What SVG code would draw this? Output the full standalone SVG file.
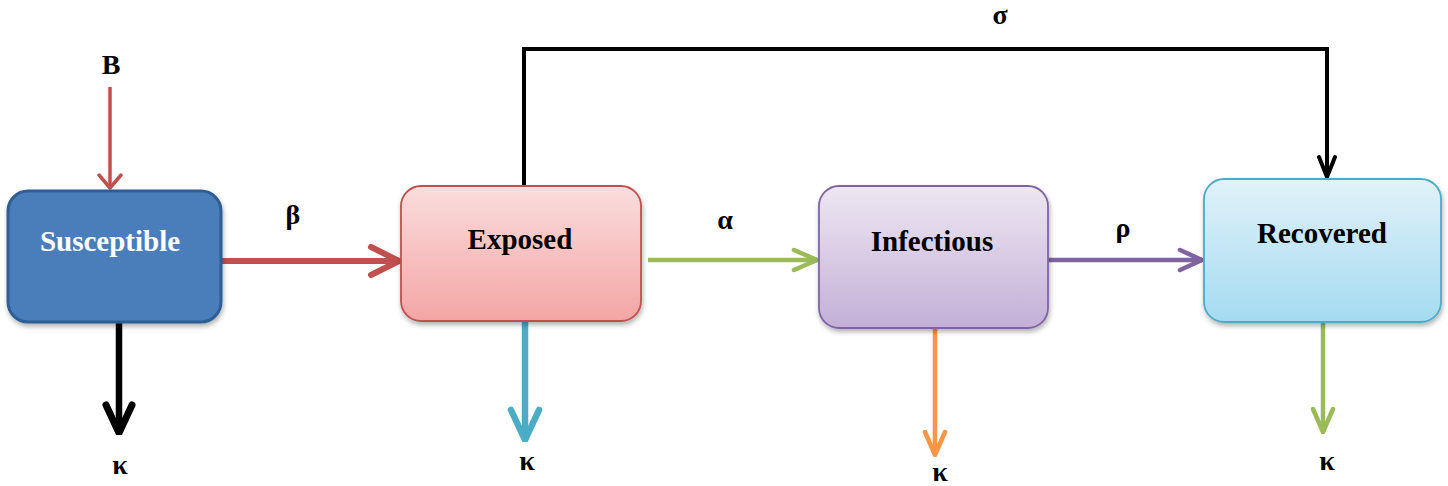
<svg xmlns="http://www.w3.org/2000/svg" width="1448" height="486" viewBox="0 0 1448 486">
<defs>
<style>
.lbl{font-family:"Liberation Serif","Times New Roman",serif;font-weight:bold;font-size:28px;fill:#000;text-anchor:middle}
.name{font-family:"Liberation Serif","Times New Roman",serif;font-weight:bold;font-size:29px;text-anchor:middle;fill:#000}
.conn{fill:none;stroke-linecap:butt}
.head{fill:none;stroke-linecap:round;stroke-linejoin:round}
</style>
<linearGradient id="gE" x1="0" y1="0" x2="0" y2="1"><stop offset="0" stop-color="#fbdddd"/><stop offset="1" stop-color="#f4a5a5"/></linearGradient>
<linearGradient id="gI" x1="0" y1="0" x2="0" y2="1"><stop offset="0" stop-color="#eee7f2"/><stop offset="1" stop-color="#c3afd7"/></linearGradient>
<linearGradient id="gR" x1="0" y1="0" x2="0" y2="1"><stop offset="0" stop-color="#e1f2f9"/><stop offset="1" stop-color="#a4dbf0"/></linearGradient>
<filter id="sh" x="-10%" y="-10%" width="125%" height="130%"><feDropShadow dx="1" dy="3" stdDeviation="2.5" flood-color="#000" flood-opacity="0.3"/></filter>
<marker id="mRedL" markerUnits="userSpaceOnUse" viewBox="0 0 40 40" refX="38" refY="20" markerWidth="40" markerHeight="40" orient="auto"><path class="head" d="M10,6 L38,20 L10,34" stroke="#c0504d" stroke-width="6"/></marker>
<marker id="mRedS" markerUnits="userSpaceOnUse" viewBox="0 0 40 40" refX="38" refY="20" markerWidth="40" markerHeight="40" orient="auto"><path class="head" d="M25,9 L38,20 L25,31" stroke="#c0504d" stroke-width="3.5"/></marker>
<marker id="mBlack" markerUnits="userSpaceOnUse" viewBox="0 0 40 40" refX="38" refY="20" markerWidth="40" markerHeight="40" orient="auto"><path class="head" d="M10,7 L38,20 L10,33" stroke="#000" stroke-width="7"/></marker>
<marker id="mBlackS" markerUnits="userSpaceOnUse" viewBox="0 0 40 40" refX="38" refY="20" markerWidth="40" markerHeight="40" orient="auto"><path class="head" d="M18,12 L38,20 L18,28" stroke="#000" stroke-width="4"/></marker>
<marker id="mBlue" markerUnits="userSpaceOnUse" viewBox="0 0 40 40" refX="38" refY="20" markerWidth="40" markerHeight="40" orient="auto"><path class="head" d="M8,6 L38,20 L8,34" stroke="#4bacc6" stroke-width="6.5"/></marker>
<marker id="mOrange" markerUnits="userSpaceOnUse" viewBox="0 0 40 40" refX="38" refY="20" markerWidth="40" markerHeight="40" orient="auto"><path class="head" d="M15,10 L38,20 L15,30" stroke="#f79646" stroke-width="4.5"/></marker>
<marker id="mGreen" markerUnits="userSpaceOnUse" viewBox="0 0 40 40" refX="38" refY="20" markerWidth="40" markerHeight="40" orient="auto"><path class="head" d="M15,10 L38,20 L15,30" stroke="#9bbb59" stroke-width="4.5"/></marker>
<marker id="mPurple" markerUnits="userSpaceOnUse" viewBox="0 0 40 40" refX="38" refY="20" markerWidth="40" markerHeight="40" orient="auto"><path class="head" d="M16,10 L38,20 L16,30" stroke="#8064a2" stroke-width="4.5"/></marker>
</defs>
<rect width="1448" height="486" fill="#fff"/>

<g id="connectors">
<line class="conn" x1="110" y1="87" x2="110" y2="188" stroke="#c0504d" stroke-width="3.5" marker-end="url(#mRedS)"/>
<line class="conn" x1="221" y1="261" x2="399" y2="261" stroke="#c0504d" stroke-width="6" marker-end="url(#mRedL)"/>
<line class="conn" x1="119" y1="323" x2="119" y2="433" stroke="#000" stroke-width="6.5" marker-end="url(#mBlack)"/>
<line class="conn" x1="525" y1="321" x2="525" y2="440" stroke="#4bacc6" stroke-width="6.5" marker-end="url(#mBlue)"/>
<line class="conn" x1="648" y1="260" x2="817" y2="260" stroke="#9bbb59" stroke-width="4.5" marker-end="url(#mGreen)"/>
<line class="conn" x1="935" y1="328" x2="935" y2="455" stroke="#f79646" stroke-width="4.5" marker-end="url(#mOrange)"/>
<line class="conn" x1="1048" y1="260" x2="1202" y2="260" stroke="#8064a2" stroke-width="4.5" marker-end="url(#mPurple)"/>
<line class="conn" x1="1323" y1="322" x2="1323" y2="432" stroke="#9bbb59" stroke-width="4.5" marker-end="url(#mGreen)"/>
<path class="conn" d="M524,190 L524,49 L1327,49 L1327,177" stroke="#000" stroke-width="4" stroke-linejoin="miter" marker-end="url(#mBlackS)"/>
</g>

<g id="labels">
<text class="lbl" x="111" y="74">B</text>
<text class="lbl" x="293" y="224">β</text>
<text class="lbl" x="725" y="229">α</text>
<text class="lbl" x="1123" y="237">ρ</text>
<text class="lbl" x="1000" y="24">σ</text>
<text class="lbl" x="120" y="474">κ</text>
<text class="lbl" x="527" y="470">κ</text>
<text class="lbl" x="940" y="481">κ</text>
<text class="lbl" x="1327" y="470">κ</text>
</g>

<g id="susceptible">
<rect x="8" y="191" width="213" height="131" rx="20" fill="#4a7ebb" stroke="#2f5f94" stroke-width="3" filter="url(#sh)"/>
<text class="name" x="110" y="251" style="fill:#fff">Susceptible</text>
</g>
<g id="exposed">
<rect x="401" y="186" width="240" height="135" rx="20" fill="url(#gE)" stroke="#c0504d" stroke-width="1.8" filter="url(#sh)"/>
<text class="name" x="520" y="249">Exposed</text>
</g>
<g id="infectious">
<rect x="819" y="186" width="229" height="142" rx="20" fill="url(#gI)" stroke="#8064a2" stroke-width="1.8" filter="url(#sh)"/>
<text class="name" x="932" y="251">Infectious</text>
</g>
<g id="recovered">
<rect x="1204" y="179" width="237" height="143" rx="20" fill="url(#gR)" stroke="#4bacc6" stroke-width="1.8" filter="url(#sh)"/>
<text class="name" x="1322" y="243">Recovered</text>
</g>
</svg>
